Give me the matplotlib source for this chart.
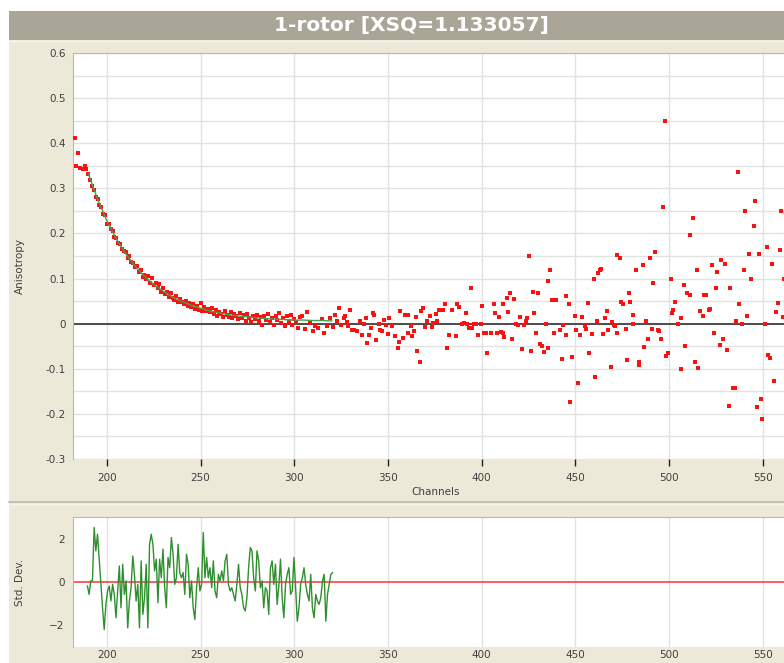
import numpy as np
import matplotlib
matplotlib.use("Agg")
import matplotlib.pyplot as plt
from matplotlib.patches import Rectangle
from matplotlib.lines import Line2D
from matplotlib.ticker import MultipleLocator, FuncFormatter

W, H = 784, 663

# ---------------------------------------------------------------- data
# anisotropy decay: channel positions and measured values
channels = [
    183.0, 184.8, 183.6, 185.7, 187.1, 188.4, 189.0,
    190, 191, 192, 193, 194, 195, 196, 197, 198, 199,
    200, 201, 202, 203, 204, 205, 206, 207, 208, 209,
    210, 211, 212, 213, 214, 215, 216, 217, 218, 219,
    220, 221, 222, 223, 224, 225, 226, 227, 228, 229,
    230, 231, 232, 233, 234, 235, 236, 237, 238, 239,
    240, 241, 242, 243, 244, 245, 246, 247, 248, 249,
    250, 251, 252, 253, 254, 255, 256, 257, 258, 259,
    260, 261, 262, 263, 264, 265, 266, 267, 268, 269,
    270, 271, 272, 273, 274, 275, 276, 277, 278, 279,
    280, 281, 282, 283, 284, 285, 286, 287, 288, 289,
    290, 291, 292, 293, 294, 295, 296, 297, 298, 299,
    300, 301, 302, 303,
    303.9, 307.0, 305.7, 308.4, 309.8, 311.0, 312.9, 314.6, 315.9, 317.3,
    319.1, 320.9, 321.8, 322.7, 324.1, 324.8, 326.3, 326.8, 328.0, 328.4,
    329.8, 330.7, 332.0, 333.4, 334.8, 336.1, 337.0, 338.0, 338.8, 340.0,
    341.1, 342.0, 342.7, 343.8, 345.0, 345.9, 346.8, 348.0, 349.1, 350.0,
    350.5, 352.1, 353.6, 355.2, 355.7, 356.6, 358.0, 358.8, 359.8, 360.5,
    360.5, 362.0, 362.9, 363.8, 365.0, 365.5, 366.8, 367.7, 368.8, 370.0,
    370.9, 372.3, 373.6, 374.1, 375.4, 376.3, 377.1, 378.0, 379.5, 380.4,
    381.6, 382.5, 384.3, 386.1, 387.0, 387.9, 389.6, 390.5, 391.4, 392.3,
    393.2, 394.5, 395.0, 395.9, 396.8, 398.0, 399.5, 400.4, 401.3, 402.3,
    403.0, 404.8, 406.3, 407.0, 408.4, 409.3, 410.2, 411.1, 412.0, 411.4,
    413.4, 413.9, 415.0, 415.9, 417.0, 418.2, 419.1, 420.2, 421.3, 422.7,
    423.6, 424.1, 425.4, 426.3, 427.1, 428.0, 428.9, 430.2, 431.3, 432.0,
    433.4, 434.3, 435.5, 435.5, 436.6,
    437.7, 438.4, 439.8, 441.6, 442.9, 443.4, 445.2, 445.0, 446.6, 447.3,
    448.4, 450.0, 450.5, 451.6, 452.3, 453.4, 455.0, 455.5, 456.8, 457.3,
    458.6, 459.8, 460.7, 461.6, 462.3, 463.0, 463.9, 464.5, 465.9, 467.0,
    467.5, 468.9, 469.5, 470.7, 471.3, 472.0, 472.3, 473.8, 474.1, 475.5,
    477.0, 477.7, 478.8, 479.3, 480.5, 480.9, 482.3, 483.8, 484.1, 485.9,
    486.6, 487.5, 488.9, 489.8, 490.9, 491.6, 492.7, 494.1, 494.5, 495.9,
    497.0, 497.9, 498.2, 499.6, 500.9, 501.4, 502.3, 503.0, 504.6, 506.1,
    506.6, 507.7, 508.4, 509.6, 511.4, 511.1, 512.9, 513.8, 514.8, 515.5,
    516.6, 518.0, 518.8, 519.8, 521.1, 521.8, 522.9, 523.9, 524.8, 525.7,
    527.0, 527.9, 528.9, 530.0, 530.9, 532.0, 532.3, 533.9, 535.0, 535.7,
    537.0, 537.5, 538.9, 540.0, 540.7, 541.6, 542.7, 543.8, 545.2, 545.7,
    547.0, 547.7, 548.8, 549.8, 550.9, 552.0, 552.9, 553.8, 555.0, 555.9,
    557.1, 557.9, 559.1, 559.8, 560.9, 561.4, 562.5, 564.0, 565.5,
]
anisotropy = [
    0.412, 0.379, 0.350, 0.346, 0.342, 0.350, 0.342,
    0.331, 0.318, 0.305, 0.297, 0.281, 0.277, 0.262, 0.258, 0.243, 0.240,
    0.222, 0.221, 0.209, 0.205, 0.193, 0.190, 0.178, 0.176, 0.166, 0.162,
    0.158, 0.146, 0.149, 0.136, 0.135, 0.126, 0.128, 0.114, 0.118, 0.103,
    0.107, 0.098, 0.106, 0.090, 0.101, 0.085, 0.091, 0.078, 0.088, 0.070,
    0.078, 0.066, 0.071, 0.060, 0.068, 0.058, 0.052, 0.061, 0.047, 0.055,
    0.049, 0.043, 0.051, 0.040, 0.046, 0.037, 0.044, 0.033, 0.039, 0.030,
    0.045, 0.029, 0.036, 0.027, 0.033, 0.025, 0.034, 0.021, 0.030, 0.018,
    0.026, 0.022, 0.015, 0.027, 0.019, 0.014, 0.025, 0.012, 0.021, 0.016,
    0.010, 0.023, 0.013, 0.019, 0.007, 0.021, 0.012, 0.004, 0.017, 0.011,
    0.020, 0.006, 0.014, -0.002, 0.016, 0.009, 0.022, 0.004, 0.013, -0.004,
    0.018, 0.008, 0.024, 0.002, 0.012, -0.006, 0.016, 0.006, 0.020, -0.003,
    0.011, 0.004, -0.009, 0.014,
    0.017, 0.026, -0.011, 0.002, -0.016, -0.005, -0.009, 0.010, -0.021, -0.005,
    0.012, -0.007, 0.019, 0.006, 0.034, -0.003, 0.012, 0.017, 0.004, -0.005,
    0.030, -0.013, -0.015, -0.016, 0.006, -0.025, -0.001, 0.013, -0.042, -0.025,
    -0.010, 0.024, 0.019, -0.037, 0.000, -0.013, -0.016, 0.009, -0.004, -0.022,
    0.012, -0.005, -0.027, -0.055, -0.040, 0.027, -0.031, 0.019, 0.019, 0.019,
    -0.020, -0.005, -0.027, -0.016, 0.015, -0.061, -0.086, 0.027, 0.034, -0.007,
    0.006, 0.017, -0.007, 0.002, 0.022, 0.006, 0.030, 0.030, 0.030, 0.044,
    -0.055, -0.025, 0.030, -0.027, 0.043, 0.037, 0.000, 0.002, 0.024, 0.000,
    -0.010, 0.078, -0.010, 0.000, 0.000, -0.025, 0.000, 0.039, -0.020, -0.020,
    -0.066, -0.020, 0.044, 0.024, -0.020, 0.015, -0.018, -0.020, -0.030, 0.044,
    0.058, 0.026, 0.069, -0.033, 0.055, 0.000, -0.003, 0.015, -0.057, -0.003,
    0.007, 0.012, 0.150, -0.061, 0.070, 0.024, -0.020, 0.069, -0.046, -0.050,
    -0.062, 0.000, 0.095, -0.053, 0.118,
    0.052, -0.020, 0.052, -0.015, -0.078, -0.004, 0.061, -0.026, 0.044, -0.174,
    -0.074, 0.018, -0.015, -0.132, -0.026, 0.015, -0.006, -0.011, 0.046, -0.064,
    -0.022, 0.100, -0.118, 0.007, 0.112, 0.120, 0.122, -0.022, 0.013, 0.028,
    -0.015, -0.095, 0.004, -0.004, -0.006, -0.021, 0.153, 0.146, 0.048, 0.044,
    -0.011, -0.081, 0.068, 0.048, 0.020, 0.000, 0.118, -0.085, -0.092, 0.131,
    -0.052, 0.006, -0.033, 0.146, -0.011, 0.090, 0.159, -0.015, -0.016, -0.035,
    0.259, 0.449, -0.072, -0.064, 0.100, 0.024, 0.031, 0.048, 0.000, -0.100,
    0.013, 0.085, -0.049, 0.069, 0.063, 0.196, 0.234, -0.085, 0.118, -0.098,
    0.028, 0.018, 0.064, 0.064, 0.031, 0.033, 0.129, -0.020, 0.078, 0.115,
    -0.048, 0.142, -0.033, 0.133, -0.059, -0.182, 0.079, -0.143, -0.143, 0.007,
    0.336, 0.044, 0.000, 0.120, 0.249, 0.018, 0.154, 0.099, 0.216, 0.272,
    -0.185, 0.154, -0.166, -0.212, 0.000, 0.170, -0.069, -0.076, 0.133, -0.126,
    0.026, 0.046, 0.164, 0.249, 0.015, 0.100, 0.250, 0.048, -0.030,
]

# fitted single-rotor decay
fit_channels = [190, 195, 200, 205, 210, 215, 220, 225, 230, 235, 240, 245,
                250, 255, 260, 265, 270, 275, 280, 285, 290, 295, 300, 305,
                310, 315, 320]
fit_values = [0.333, 0.276, 0.228, 0.188, 0.155, 0.128, 0.105, 0.087, 0.072,
              0.059, 0.049, 0.041, 0.034, 0.028, 0.024, 0.020, 0.017, 0.015,
              0.013, 0.011, 0.010, 0.009, 0.008, 0.008, 0.007, 0.007, 0.006]

# weighted residuals of the fit
resid_first, resid_last = 189.6, 320.4
residuals = [
    -0.19, -0.58, 0.05, 0.08, 2.56, 1.46, 2.24, 1.07, -0.11, -1.21,
    -2.23, -1.05, -0.42, -0.19, -0.89, -0.11, -0.58, -1.68, -0.42, 0.75,
    -1.21, 0.83, -0.58, 0.05, -2.15, -0.89, -0.27, 1.22, 0.36, -0.89,
    -0.11, -2.15, 0.99, -1.52, -0.74, 0.83, -2.15, 1.77, 2.24, 1.77,
    0.52, 1.07, -0.97, 1.07, 0.20, 1.54, -0.27, -1.21, 1.15, 0.67,
    2.09, 1.30, -0.11, 0.20, 1.77, 0.44, 0.20, 0.44, -0.58, 1.30,
    0.83, -0.74, 0.05, -1.21, -1.76, -0.27, 0.67, -0.42, -0.11, 2.32,
    0.20, 1.15, 0.20, 0.67, -0.27, 0.99, -0.42, -0.74, 0.36, 0.05,
    0.52, 0.05, 0.99, 1.30, -0.11, -0.42, -0.27, -0.58, -0.89, -0.11,
    0.83, -0.27, -0.58, -1.21, -1.36, -0.74, 0.67, 1.62, 1.46, 0.20,
    -0.42, 1.46, 0.99, -0.27, 0.05, -1.21, -0.27, -0.42, -1.52, 0.67,
    0.99, -0.11, 0.83, -1.05, -0.19, 1.07, -0.74, -1.68, -0.11, 0.36,
    0.67, -0.58, -0.42, 1.15, -0.27, -1.84, -1.21, -0.11, 0.20, 0.67,
    -0.11, -0.58, -0.89, 0.36, -1.21, -1.68, -0.58, -0.89, -1.05, -0.74,
    0.05, 0.36, -1.84, -0.58, -0.11, 0.36, 0.44,
]

x_ticks = [200, 250, 300, 350, 400, 450, 500, 550]

# ---------------------------------------------------------------- style
BEIGE = "#ece9d8"
BAR = "#a9a698"
GRID = "#e2e2e2"
TXT = "#404040"
FS = 7.5


def fx(px):
    return px / W


def fy(py):
    return 1 - py / H


fig = plt.figure(figsize=(W / 100, H / 100), dpi=100)
fig.patch.set_facecolor("white")

# window panels (drawn beneath the axes)
fig.patches.append(Rectangle((fx(9), 0), 1, fy(40), transform=fig.transFigure,
                             facecolor=BEIGE, edgecolor="none", zorder=-10))
fig.patches.append(Rectangle((fx(9), fy(40)), 1, fy(11) - fy(40),
                             transform=fig.transFigure, facecolor=BAR,
                             edgecolor="none", zorder=-10))
fig.lines.append(Line2D([fx(9), 1], [fy(40.5), fy(40.5)], transform=fig.transFigure,
                        color="#f6f4ea", lw=1, zorder=-9))
fig.lines.append(Line2D([fx(9), 1], [fy(502), fy(502)], transform=fig.transFigure,
                        color="#bdb9a6", lw=1.2, zorder=-9))
fig.lines.append(Line2D([fx(9), 1], [fy(504), fy(504)], transform=fig.transFigure,
                        color="#f6f4ea", lw=1, zorder=-9))
fig.text(fx(411), fy(25.5), "1-rotor [XSQ=1.133057]", ha="center", va="center",
         color="white", fontsize=14.5, fontweight="bold")

# ---------------------------------------------------------------- main axes
left, right = 73, 799
ax = fig.add_axes([fx(left), fy(459), fx(right) - fx(left), fy(53) - fy(459)])
ax.set_facecolor("white")
ax.set_xlim(181.9, 181.9 + (right - left) / 1.874)
ax.set_ylim(-0.3, 0.6)
ax.yaxis.set_major_locator(MultipleLocator(0.1))
ax.yaxis.set_minor_locator(MultipleLocator(0.05))
ax.set_xticks(x_ticks)
ax.grid(True, which="major", axis="x", color=GRID, lw=1)
ax.grid(True, which="both", axis="y", color=GRID, lw=1)
ax.set_axisbelow(True)
for s in ["right", "bottom"]:
    ax.spines[s].set_visible(False)
for s in ["left", "top"]:
    ax.spines[s].set_color("#b8b8b8")
    ax.spines[s].set_linewidth(0.8)
ax.tick_params(axis="y", which="both", length=0, pad=5, labelsize=FS,
               labelcolor=TXT)
ax.tick_params(axis="x", length=5, width=1, direction="out", pad=5,
               labelsize=FS, labelcolor=TXT, color="#202020")
ax.yaxis.set_major_formatter(FuncFormatter(lambda v, p: "0" if abs(v) < 1e-9 else f"{v:.1f}"))

ax.axhline(0, color="#303030", lw=1.2, zorder=2)
ax.plot(channels, anisotropy, "s", color="#ff1010", markersize=2.9,
        markeredgewidth=0, zorder=3)
ax.plot(fit_channels, fit_values, color="#3fa34d", lw=1.0, zorder=4)
ax.set_xlabel("Channels", fontsize=FS, color=TXT, labelpad=3)
fig.text(fx(20), fy(266), "Anisotropy", rotation=90, ha="center", va="center",
         fontsize=FS, color=TXT)

# ---------------------------------------------------------------- residuals
rx = fig.add_axes([fx(left), fy(647), fx(right) - fx(left), fy(517) - fy(647)])
rx.set_facecolor("white")
rx.set_xlim(ax.get_xlim())
rx.set_ylim(-3.05, 3.05)
rx.set_xticks(x_ticks)
rx.set_yticks([-2, 0, 2])
rx.grid(True, axis="x", color=GRID, lw=1)
rx.set_axisbelow(True)
for s in ["right", "bottom"]:
    rx.spines[s].set_visible(False)
for s in ["left", "top"]:
    rx.spines[s].set_color("#b8b8b8")
    rx.spines[s].set_linewidth(0.8)
rx.tick_params(axis="y", length=0, pad=6, labelsize=FS, labelcolor=TXT)
rx.tick_params(axis="x", length=0, pad=2, labelsize=FS, labelcolor=TXT)
rx.axhline(0, color="#ff4040", lw=1.2, zorder=2)
resid_x = np.linspace(resid_first, resid_last, len(residuals))
rx.plot(resid_x, residuals, color="#2f8f2f", lw=1.0, zorder=3)
fig.text(fx(20), fy(582), "Std. Dev.", rotation=90, ha="center", va="center",
         fontsize=FS, color=TXT)

fig.savefig("out.png", dpi=100, facecolor=fig.get_facecolor())
